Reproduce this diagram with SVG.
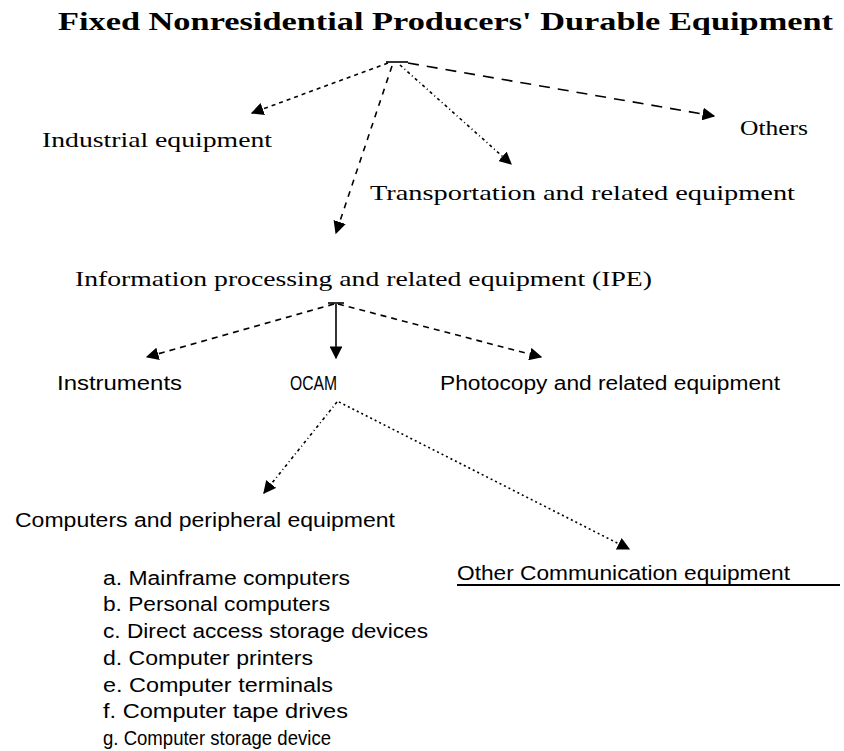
<svg xmlns="http://www.w3.org/2000/svg" width="844" height="751" viewBox="0 0 844 751">
<defs>
<marker id="ah" viewBox="0 0 10 10" refX="9" refY="5" markerWidth="8" markerHeight="8" orient="auto" markerUnits="strokeWidth">
<path d="M0,0 L10,5 L0,10 Z" fill="#000"/>
</marker>
<style>
.t{font-family:"Liberation Serif","Times New Roman",serif;font-size:22px;fill:#000}
.ttl{font-family:"Liberation Serif","Times New Roman",serif;font-size:26px;font-weight:bold;fill:#000}
.s{font-family:"Liberation Sans",Arial,sans-serif;font-size:20px;fill:#000}
.c{stroke:#000;stroke-width:1.6;fill:none;marker-end:url(#ah)}
.h{stroke:#000;stroke-width:1.6;fill:none}
</style>
</defs>
<rect width="844" height="751" fill="#fff"/>
<g id="connectors">
<line class="h" x1="386" y1="62" x2="408" y2="62"/>
<line class="c" x1="388" y1="63" x2="252" y2="113" stroke-dasharray="4 4"/>
<line class="c" x1="408" y1="63" x2="714" y2="116" stroke-dasharray="11 8"/>
<line class="c" x1="400" y1="65" x2="511" y2="164" stroke-dasharray="3 3 1 3"/>
<line class="c" x1="392" y1="66" x2="336" y2="233" stroke-dasharray="6 6"/>
<line class="h" x1="328" y1="303" x2="344" y2="303"/>
<line class="c" x1="334" y1="304" x2="147" y2="357" stroke-dasharray="6 5"/>
<line class="c" x1="336" y1="304" x2="336" y2="358"/>
<line class="c" x1="338" y1="304" x2="541" y2="357" stroke-dasharray="6 5"/>
<line class="c" x1="337" y1="402" x2="264" y2="493" stroke-dasharray="3 3 1 3"/>
<line class="c" x1="339" y1="402" x2="629" y2="549" stroke-dasharray="2 3"/>
</g>
<g id="title"><text class="ttl" x="58" y="30" textLength="775" lengthAdjust="spacingAndGlyphs">Fixed Nonresidential Producers' Durable Equipment</text></g>
<g id="industrial"><text class="t" x="42" y="147" textLength="230" lengthAdjust="spacingAndGlyphs">Industrial equipment</text></g>
<g id="others"><text class="t" x="740" y="135" textLength="68" lengthAdjust="spacingAndGlyphs">Others</text></g>
<g id="transportation"><text class="t" x="370" y="200" textLength="425" lengthAdjust="spacingAndGlyphs">Transportation and related equipment</text></g>
<g id="ipe"><text class="t" x="75" y="286" textLength="577" lengthAdjust="spacingAndGlyphs">Information processing and related equipment (IPE)</text></g>
<g id="instruments"><text class="s" x="57" y="390" textLength="125" lengthAdjust="spacingAndGlyphs">Instruments</text></g>
<g id="ocam"><text class="s" x="290" y="390" textLength="47" lengthAdjust="spacingAndGlyphs">OCAM</text></g>
<g id="photocopy"><text class="s" x="440" y="390" textLength="340" lengthAdjust="spacingAndGlyphs">Photocopy and related equipment</text></g>
<g id="computers"><text class="s" x="15" y="527" textLength="380" lengthAdjust="spacingAndGlyphs">Computers and peripheral equipment</text></g>
<g id="other-communication">
<text class="s" x="457" y="580" textLength="333" lengthAdjust="spacingAndGlyphs">Other Communication equipment</text>
<line x1="457" y1="585" x2="840" y2="585" stroke="#000" stroke-width="2"/>
</g>
<g id="computer-list">
<text class="s" x="103" y="585" textLength="247" lengthAdjust="spacingAndGlyphs">a. Mainframe computers</text>
<text class="s" x="103" y="611" textLength="227" lengthAdjust="spacingAndGlyphs">b. Personal computers</text>
<text class="s" x="103" y="638" textLength="325" lengthAdjust="spacingAndGlyphs">c. Direct access storage devices</text>
<text class="s" x="103" y="665" textLength="210" lengthAdjust="spacingAndGlyphs">d. Computer printers</text>
<text class="s" x="103" y="692" textLength="230" lengthAdjust="spacingAndGlyphs">e. Computer terminals</text>
<text class="s" x="103" y="718" textLength="245" lengthAdjust="spacingAndGlyphs">f. Computer tape drives</text>
<text class="s" x="103" y="745" textLength="228" lengthAdjust="spacingAndGlyphs">g. Computer storage device</text>
</g>
</svg>
